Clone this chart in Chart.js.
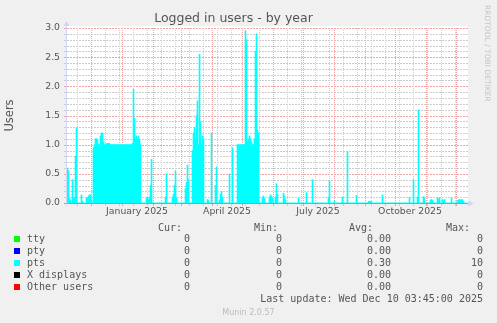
<!DOCTYPE html>
<html>
<head>
<meta charset="utf-8">
<script src="https://cdn.jsdelivr.net/npm/chart.js@4.4.0/dist/chart.umd.min.js"></script>
<style>
  body { margin: 0; background: #f0f0f0; width: 497px; height: 323px; overflow: hidden; position: relative; }
  #wrap { position: absolute; left: 0; top: 0; width: 497px; height: 323px; }
  .txt { position: absolute; white-space: pre; font-family: "DejaVu Sans Mono", monospace; font-size: 10px; line-height: 12px; color: #555; }
  .sw { position: absolute; width: 6px; height: 6px; }
  #munin { position: absolute; left: 0; width: 497px; top: 308px; text-align: center; font-family: "DejaVu Sans", sans-serif; font-size: 8px; line-height: 10px; color: #bbb; }
  #rrd { position: absolute; left: 483px; top: 5px; writing-mode: vertical-rl; font-family: "DejaVu Sans", sans-serif; font-size: 7.5px; line-height: 9px; color: #c4c4c4; white-space: nowrap; }
</style>
</head>
<body>
<div id="wrap"><canvas id="chart"></canvas></div>
<div id="rrd">RRDTOOL / TOBI OETIKER</div>
<div id="munin">Munin 2.0.57</div>
<script>
// x axis: one slot per day, day 0 = 7 Nov 2024, 400 days shown
var startDate = Date.UTC(2024, 10, 7);
var dayCount = 400;
var quarterLabels = ['January 2025', 'April 2025', 'July 2025', 'October 2025'];
var quarterMonths = [[2025, 0], [2025, 3], [2025, 6], [2025, 9]];
var yGridValues = [];
for (var k = 0; k <= 30; k++) yGridValues.push(k / 10);

var pts = [
    0.6, 0.55, 0.08, 0.05, 0, 0.4, 0.1, 0.1, 0.8, 1.29,
    0, 0, 0, 0, 0.14, 0.03, 0, 0, 0, 0.09,
    0.09, 0.12, 0.14, 0.14, 0.05, 0, 0.95, 1.0, 1.1, 1.1,
    1.08, 1.0, 1.0, 1.15, 1.2, 1.2, 1.05, 1.0, 1.0, 1.02,
    1.02, 1.02, 1.02, 1.0, 1.0, 1.0, 1.0, 1.0, 1.0, 1.0,
    1.0, 1.0, 1.0, 1.0, 1.0, 1.0, 1.0, 1.0, 1.0, 1.0,
    1.0, 1.0, 1.0, 1.0, 1.0, 1.02, 1.95, 1.45, 1.1, 1.15,
    1.1, 1.15, 1.08, 1.0, 0, 0, 0, 0, 0, 0.08,
    0.1, 0.05, 0.1, 0.3, 0.75, 0, 0, 0, 0, 0,
    0, 0, 0, 0, 0, 0, 0, 0, 0.1, 0.5,
    0, 0, 0, 0, 0, 0.1, 0.15, 0.3, 0.55, 0.1,
    0, 0, 0, 0, 0, 0, 0, 0, 0.25, 0.35,
    0.65, 0.4, 0, 0, 0, 0.9, 1.2, 1.3, 1.1, 1.5,
    1.75, 1.0, 2.55, 1.4, 1.0, 1.15, 1.1, 0, 0, 0,
    0.06, 0.04, 0, 0, 1.2, 0, 0, 0, 0.3, 0.62,
    0, 0, 0.05, 0.15, 0.2, 0.1, 0, 0, 0, 0,
    0, 0, 0.5, 0, 0, 0.95, 0, 0, 0, 0,
    1.0, 1.0, 1.0, 1.0, 1.0, 1.0, 1.0, 1.0, 2.95, 2.8,
    1.05, 1.1, 1.15, 1.1, 1.05, 1.0, 1.0, 1.1, 2.6, 2.9,
    1.25, 1.2, 0, 0, 0, 0.1, 0.12, 0.08, 0, 0,
    0, 0, 0.1, 0.14, 0.12, 0.08, 0, 0, 0.1, 0.33,
    0.15, 0, 0, 0, 0, 0, 0.17, 0.12, 0.05, 0,
    0, 0, 0, 0, 0, 0, 0, 0, 0, 0,
    0, 0.08, 0, 0, 0, 0, 0, 0, 0, 0.18,
    0, 0, 0, 0, 0, 0.4, 0, 0, 0, 0,
    0, 0, 0, 0, 0, 0, 0, 0, 0, 0,
    0, 0.1, 0.38, 0, 0, 0, 0, 0.04, 0, 0,
    0, 0, 0, 0, 0, 0.1, 0, 0, 0, 0,
    0.88, 0, 0, 0, 0, 0, 0, 0, 0, 0.13,
    0, 0, 0, 0, 0, 0, 0, 0, 0, 0,
    0, 0.03, 0.03, 0.03, 0.02, 0, 0, 0, 0, 0,
    0, 0, 0, 0, 0, 0.14, 0, 0, 0, 0,
    0, 0, 0, 0, 0, 0, 0, 0, 0, 0,
    0, 0, 0, 0, 0, 0, 0, 0, 0, 0,
    0, 0, 0.1, 0, 0, 0, 0.4, 0, 0, 0,
    0.1, 1.6, 0, 0, 0, 0, 0.11, 0.08, 0, 0,
    0, 0, 0, 0.05, 0.06, 0.05, 0, 0, 0, 0,
    0.09, 0.06, 0.09, 0, 0, 0.06, 0.04, 0.06, 0, 0,
    0, 0, 0, 0, 0.09, 0, 0, 0, 0, 0,
    0.04, 0.05, 0.06, 0.06, 0.05, 0.06, 0.03, 0, 0, 0
];

// legend table
var seriesNames = ['tty', 'pty', 'pts', 'X displays', 'Other users'];
var seriesColors = ['#00ff00', '#0000ff', '#00ffff', '#000000', '#ff0000'];
var curVals = ['0', '0', '0', '0', '0'];
var minVals = ['0', '0', '0', '0', '0'];
var avgVals = ['0.00', '0.00', '0.30', '0.00', '0.00'];
var maxVals = ['0', '0', '10', '0', '0'];
var lastUpdate = 'Last update: Wed Dec 10 03:45:00 2025';

function dayOf(yr, mo, dd) {
    return Math.round((Date.UTC(yr, mo, dd) - startDate) / 86400000);
}

// x ticks: month starts (red), every second week (grey), quarter labels mid month
var xTicks = [];
var monthDays = {};
for (var yr = 2024; yr <= 2025; yr++) {
    for (var mo = 0; mo < 12; mo++) {
        var md = dayOf(yr, mo, 1);
        if (md > 0 && md < dayCount) {
            xTicks.push({value: md, kind: 'major'});
            monthDays[md] = true;
        }
    }
}
for (var w = 10; w < dayCount; w += 14) {
    if (!monthDays[w]) xTicks.push({value: w, kind: 'minor'});
}
for (var q = 0; q < quarterLabels.length; q++) {
    xTicks.push({value: dayOf(quarterMonths[q][0], quarterMonths[q][1], 16), kind: 'label', label: quarterLabels[q]});
}
xTicks.sort(function (a, b) { return a.value - b.value; });

var majorColor = '#eea3a3';
var minorColor = '#cdcdcd';

function isMajorY(v) {
    return Math.abs(v * 2 - Math.round(v * 2)) < 1e-6;
}

function strokeLine(c, x1, y1, x2, y2) {
    c.beginPath();
    c.moveTo(x1, y1);
    c.lineTo(x2, y2);
    c.stroke();
}

var muninFrame = {
    id: 'muninFrame',
    beforeDraw: function (chart) {
        var a = chart.chartArea, c = chart.ctx;
        c.save();
        c.fillStyle = '#ffffff';
        c.fillRect(a.left, a.top - 2, a.right - a.left + 1, a.bottom - a.top + 2);
        c.restore();
    },
    beforeDatasetsDraw: function (chart) {
        var a = chart.chartArea, c = chart.ctx;
        var xs = chart.scales.x, ys = chart.scales.y;
        var left = Math.round(a.left), right = Math.round(a.right);
        var top = Math.round(a.top), bottom = Math.round(a.bottom);
        c.save();
        // horizontal rules: short dashes, two on one off
        for (var i = 0; i < yGridValues.length; i++) {
            var v = yGridValues[i];
            var py = Math.round(ys.getPixelForValue(v));
            c.fillStyle = isMajorY(v) ? majorColor : minorColor;
            for (var hx = left; hx <= right; hx += 3) c.fillRect(hx, py, Math.min(2, right + 1 - hx), 1);
            c.fillRect(left - 3, py, 3, 1);
        }
        // vertical rules: dots, one on one off
        for (var j = 0; j < xTicks.length; j++) {
            var t = xTicks[j];
            if (t.kind === 'label') continue;
            var px = Math.round(xs.getPixelForValue(t.value));
            c.fillStyle = t.kind === 'major' ? majorColor : minorColor;
            for (var vy = top; vy < bottom; vy += 2) c.fillRect(px, vy, 1, 1);
            c.fillRect(px, bottom, 1, 3);
        }
        c.restore();
    },
    afterDatasetsDraw: function (chart) {
        var a = chart.chartArea, c = chart.ctx;
        c.save();
        c.lineWidth = 1;
        c.strokeStyle = '#e47f7f';
        strokeLine(c, a.left - 3, a.bottom + 0.5, a.right + 1, a.bottom + 0.5);
        c.strokeStyle = '#cfd6f8';
        strokeLine(c, a.left - 0.5, a.bottom + 3, a.left - 0.5, a.top - 3);
        c.fillStyle = '#cfd6f8';
        c.beginPath();
        c.moveTo(a.left - 3.5, a.top - 2);
        c.lineTo(a.left + 2.5, a.top - 2);
        c.lineTo(a.left - 0.5, a.top - 7);
        c.closePath();
        c.fill();
        c.beginPath();
        c.moveTo(a.right + 1, a.bottom - 2.5);
        c.lineTo(a.right + 1, a.bottom + 3.5);
        c.lineTo(a.right + 7, a.bottom + 0.5);
        c.closePath();
        c.fill();
        c.restore();
    }
};

var chart = new Chart(document.getElementById('chart'), {
    type: 'bar',
    data: {
        datasets: [{
            label: 'pts',
            data: pts.map(function (v, i) { return {x: i + 0.5, y: v}; }),
            backgroundColor: '#00ffff',
            borderWidth: 0,
            barPercentage: 1,
            categoryPercentage: 1
        }]
    },
    options: {
        responsive: true,
        maintainAspectRatio: false,
        animation: false,
        layout: {padding: {left: 0, right: 30, top: 0, bottom: 103}},
        plugins: {
            legend: {display: false},
            tooltip: {enabled: false},
            title: {
                display: true,
                text: 'Logged in users - by year',
                color: '#555',
                font: {family: 'DejaVu Sans', size: 12.5, weight: 'normal'},
                padding: {top: 11.5, bottom: 1.5}
            }
        },
        scales: {
            x: {
                type: 'linear',
                offset: false,
                min: 0,
                max: dayCount,
                afterBuildTicks: function (scale) {
                    scale.ticks = xTicks.map(function (t) { return {value: t.value}; });
                },
                afterFit: function (scale) { scale.height = 17; },
                ticks: {
                    autoSkip: false,
                    maxRotation: 0,
                    padding: 3.5,
                    color: '#555',
                    font: {family: 'DejaVu Sans', size: 9.3},
                    callback: function (v, i) { return xTicks[i].label || ''; }
                },
                grid: {display: false, drawTicks: false},
                border: {display: false}
            },
            y: {
                min: 0,
                max: 3,
                afterBuildTicks: function (scale) {
                    scale.ticks = yGridValues.filter(isMajorY).map(function (v) { return {value: v}; });
                },
                afterFit: function (scale) { scale.width = 67; },
                ticks: {
                    autoSkip: false,
                    padding: 7,
                    color: '#555',
                    font: {family: 'DejaVu Sans', size: 9.3},
                    callback: function (v) { return v.toFixed(1); }
                },
                grid: {display: false, drawTicks: false},
                border: {display: false},
                title: {
                    display: true,
                    text: 'Users',
                    color: '#555',
                    font: {family: 'DejaVu Sans', size: 11.5},
                    padding: {top: 3.5, bottom: 0}
                }
            }
        }
    },
    plugins: [muninFrame]
});

// legend table under the graph
function addText(str, top, left, right) {
    var el = document.createElement('div');
    el.className = 'txt';
    el.textContent = str;
    el.style.top = top + 'px';
    if (left !== null) el.style.left = left + 'px';
    if (right !== null) el.style.right = (497 - right) + 'px';
    document.body.appendChild(el);
}
addText('Cur:', 222, null, 182);
addText('Min:', 222, null, 278);
addText('Avg:', 222, null, 373);
addText('Max:', 222, null, 470);
for (var r = 0; r < seriesNames.length; r++) {
    var rowTop = 233 + r * 12;
    var sw = document.createElement('div');
    sw.className = 'sw';
    sw.style.left = '14px';
    sw.style.top = (rowTop + 3) + 'px';
    sw.style.background = seriesColors[r];
    document.body.appendChild(sw);
    addText(seriesNames[r], rowTop, 27, null);
    addText(curVals[r], rowTop, null, 190);
    addText(minVals[r], rowTop, null, 282);
    addText(avgVals[r], rowTop, null, 391);
    addText(maxVals[r], rowTop, null, 483);
}
addText(lastUpdate, 293, null, 483);
</script>
</body>
</html>
